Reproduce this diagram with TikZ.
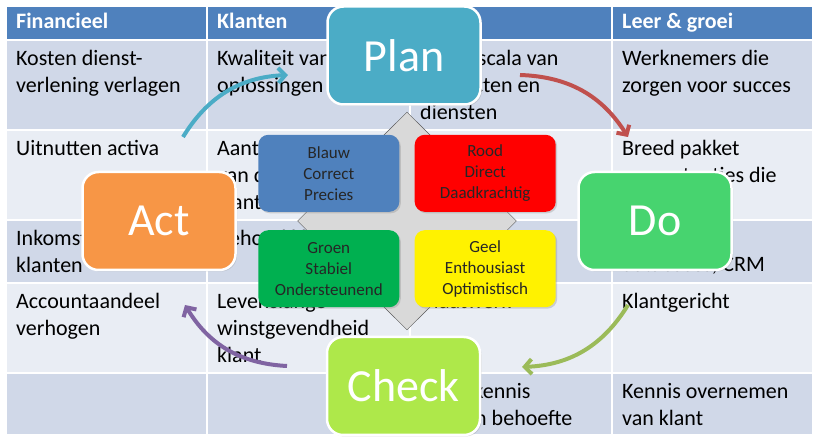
\documentclass[tikz,border=0pt]{standalone}
\usepackage{fontspec}
\setmainfont{Carlito}
\usetikzlibrary{arrows.meta, positioning, shapes.geometric, shadows}

\definecolor{kopblauw}{HTML}{4F81BD}
\definecolor{rijdonker}{HTML}{D0D8E8}
\definecolor{rijlicht}{HTML}{E9EDF4}
\definecolor{plankleur}{HTML}{4BACC6}
\definecolor{actkleur}{HTML}{F79646}
\definecolor{dokleur}{HTML}{47D46F}
\definecolor{checkkleur}{HTML}{AEE84A}
\definecolor{pijlrood}{HTML}{C0504D}
\definecolor{pijlgroen}{HTML}{9BBB59}
\definecolor{pijlpaars}{HTML}{8064A2}
\definecolor{groen}{HTML}{00B050}
\definecolor{ruitgrijs}{HTML}{D9D9D9}

\begin{document}
\begin{tikzpicture}[x=1pt, y=1pt, every node/.style={font=\fontsize{22}{27}\selectfont},
    cel/.style={anchor=base west, align=left, inner sep=0pt},
    kop/.style={anchor=base west, inner sep=0pt, text=white, font=\fontsize{22}{27}\selectfont\bfseries},
    kwadrant/.style={rounded corners=10pt, minimum width=141pt, minimum height=77pt, inner sep=0pt, align=center, text=black!85,
        font=\fontsize{17}{21}\selectfont, drop shadow={opacity=0.3, shadow xshift=1.5pt, shadow yshift=-1.5pt}},
    fase/.style={draw=white, line width=2.5pt, rounded corners=16pt, minimum width=153pt, minimum height=98pt, inner sep=0pt,
        text=white, font=\fontsize{46}{50}\selectfont, drop shadow={opacity=0.25, shadow xshift=1.5pt, shadow yshift=-1.5pt}},
    pijl/.style={line width=4pt, -{Straight Barb[length=7pt, width=15pt]}, bend left=28}]
    \useasboundingbox[fill=white] (0,0) rectangle (820,442);
    % Tabel
    \foreach \boven/\onder/\kleur in {436/402/kopblauw, 402/312/rijdonker, 312/222/rijlicht, 222/159/rijdonker, 159/69/rijlicht, 69/7/rijdonker}
        \foreach \links/\rechts in {6/207, 207/410, 410/612, 612/813}
            \draw[white, line width=1.5pt, fill=\kleur] (\links,\onder) rectangle (\rechts,\boven);
    % Kop
    \node[kop] (financieel) at (16,413) {Financieel};
    \node[kop] (klanten) at (217,413) {Klanten};
    \node[kop] (leer) at (622,413) {Leer \& groei};
    % Rij 1 (base = laatste regel)
    \node[cel] (kosten) at (16,349) {Kosten dienst-\\verlening verlagen};
    \node[cel] (kwaliteit) at (217,349) {Kwaliteit van\\oplossingen};
    \node[cel] (scala) at (420,322) {Breed scala van\\producten en\\diensten};
    \node[cel] (werknemers) at (622,349) {Werknemers die\\zorgen voor succes};
    % Rij 2
    \node[cel] (activa) at (16,286) {Uitnutten activa};
    \node[cel] (aantrekken) at (217,232) {Aantrekken\\van de juiste\\klanten};
    \node[cel] (pakket) at (622,259) {Breed pakket\\competenties die};
    % Rij 3
    \node[cel] (inkomsten) at (16,169) {Inkomsten nieuwe\\klanten};
    \node[cel] (behoud) at (217,196) {Behoud klanten};
    \node[cel] (crm) at (622,170) {databases, CRM};
    % Rij 4
    \node[cel] (account) at (16,106) {Accountaandeel\\verhogen};
    \node[cel] (levenslang) at (217,79) {Levenslange\\winstgevendheid\\klant};
    \node[cel] (maatwerk) at (420,133) {Maatwerk};
    \node[cel] (klantgericht) at (622,133) {Klantgericht};
    % Rij 5
    \node[cel] (kennis) at (420,16) {Meer kennis\\klanten behoefte};
    \node[cel] (overnemen) at (622,16) {Kennis overnemen\\van klant};
    % Pijlen
    \coordinate (actuit) at (183,305);
    \coordinate (planin) at (288,367);
    \coordinate (planuit) at (520,367);
    \coordinate (doin) at (628,305);
    \coordinate (douit) at (628,137);
    \coordinate (checkin) at (522,75);
    \coordinate (checkuit) at (287,76);
    \coordinate (actin) at (185,137);
    \draw[pijl, plankleur] (actuit) to (planin);
    \draw[pijl, pijlrood] (planuit) to (doin);
    \draw[pijl, pijlgroen] (douit) to (checkin);
    \draw[pijl, pijlpaars] (checkuit) to (actin);
    % Ruit met kleuren
    \node[diamond, draw=black!65, fill=ruitgrijs, minimum width=219pt, minimum height=218pt, inner sep=0pt] (ruit) at (407,221) {};
    \node[kwadrant, fill=kopblauw, above left=9pt and 7.5pt of ruit.center] (blauw) {Blauw\\Correct\\Precies};
    \node[kwadrant, fill=red, above right=9pt and 7.5pt of ruit.center] (rood) {Rood\\Direct\\Daadkrachtig};
    \node[kwadrant, fill=groen, below left=9pt and 7.5pt of ruit.center] (groen) {Groen\\Stabiel\\Ondersteunend};
    \node[kwadrant, fill=yellow, below right=9pt and 7.5pt of ruit.center] (geel) {Geel\\Enthousiast\\Optimistisch};
    % PDCA
    \node[fase, fill=plankleur] (plan) at (404,386.5) {Plan};
    \node[fase, fill=dokleur] (do) at (655,221) {Do};
    \node[fase, fill=checkkleur] (check) at (403.5,56) {Check};
    \node[fase, fill=actkleur] (act) at (159,221) {Act};
\end{tikzpicture}
\end{document}
